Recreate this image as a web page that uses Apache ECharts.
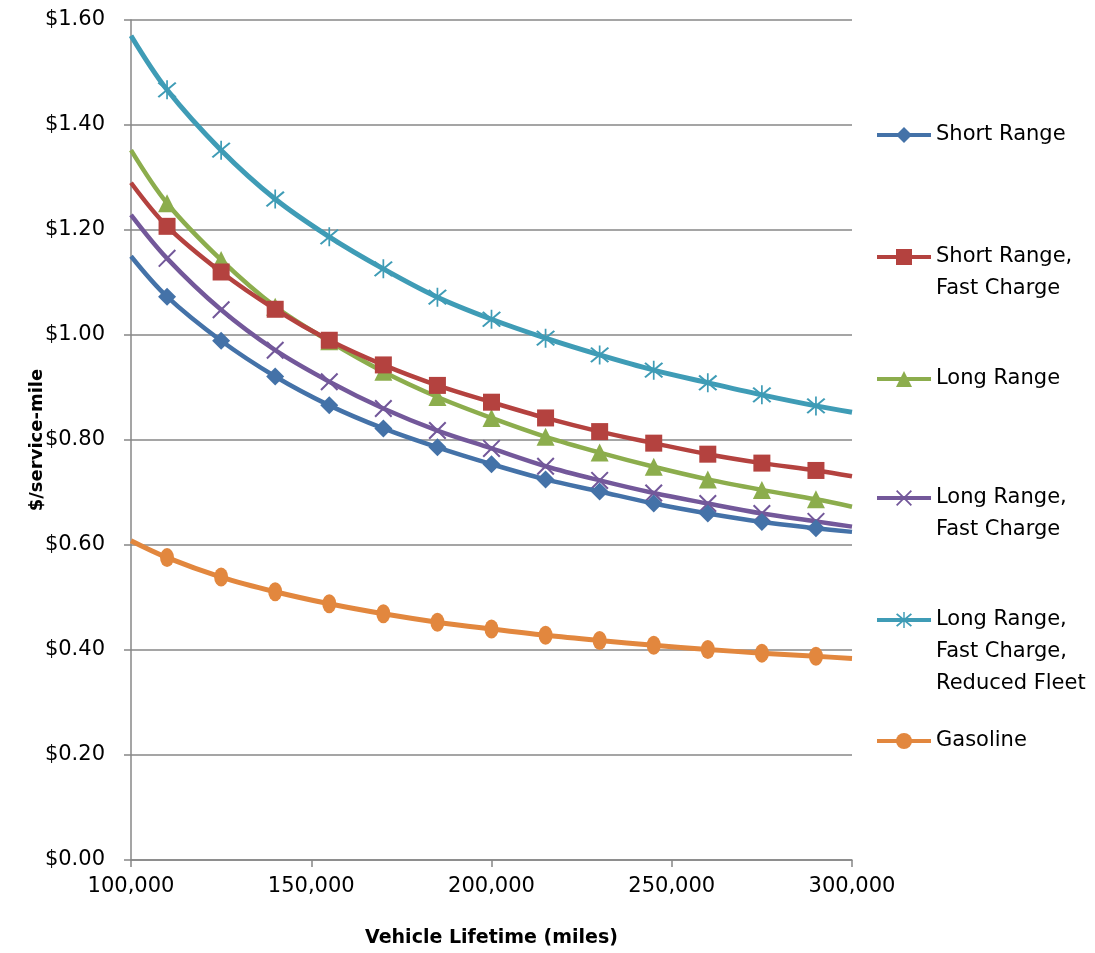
<!DOCTYPE html>
<html>
<head>
<meta charset="utf-8">
<script src="https://cdn.jsdelivr.net/npm/echarts@6/dist/echarts.min.js"></script>
<style>
html,body{margin:0;padding:0;background:#fff;}
#chart{width:1095px;height:953px;}
</style>
</head>
<body>
<div id="chart"></div>
<script>
// ---- data ----
const lifetimes = [100000,110000,125000,140000,155000,170000,185000,200000,215000,230000,245000,260000,275000,290000,300000];
const shortRange     = [1.150,1.073,0.989,0.921,0.866,0.822,0.786,0.754,0.725,0.702,0.679,0.660,0.644,0.632,0.625];
const shortRangeFast = [1.290,1.207,1.120,1.049,0.990,0.943,0.904,0.872,0.842,0.816,0.794,0.773,0.756,0.742,0.731];
const longRange      = [1.352,1.251,1.143,1.054,0.988,0.930,0.882,0.842,0.806,0.776,0.749,0.725,0.705,0.687,0.673];
const longRangeFast  = [1.229,1.146,1.048,0.971,0.911,0.860,0.818,0.784,0.750,0.723,0.699,0.679,0.660,0.645,0.635];
const reducedFleet   = [1.570,1.467,1.352,1.259,1.187,1.126,1.072,1.030,0.994,0.962,0.933,0.909,0.886,0.865,0.853];
const gasoline       = [0.608,0.576,0.539,0.511,0.488,0.469,0.453,0.440,0.428,0.418,0.409,0.401,0.394,0.388,0.384];
const seriesNames = ['Short Range','Short Range, Fast Charge','Long Range','Long Range, Fast Charge','Long Range, Fast Charge, Reduced Fleet','Gasoline'];
const yTicks = [0,0.2,0.4,0.6,0.8,1.0,1.2,1.4,1.6];
const xTicks = [100000,150000,200000,250000,300000];

// ---- styles ----
const FONT = 'DejaVu Sans';
const xPath = 'path://M0,0.8L0.8,0L10,9.2L9.2,10Z M10,0.8L9.2,0L0,9.2L0.8,10Z';
const starPath = 'path://M0,0.8L0.8,0L10,9.2L9.2,10Z M10,0.8L9.2,0L0,9.2L0.8,10Z M4.55,-1L5.45,-1L5.45,11L4.55,11Z';
const styles = [
  {color:'#4472A8', symbol:'diamond', size:18, width:4.5},
  {color:'#B4423F', symbol:'rect', size:17, width:4.5},
  {color:'#8CAD4D', symbol:'triangle', size:18, width:4.5},
  {color:'#73589A', symbol:xPath, size:18, width:4.5},
  {color:'#3F9CB6', symbol:starPath, size:19, width:5},
  {color:'#E2873E', symbol:'circle', size:[14,19], width:5}
];
const values = [shortRange, shortRangeFast, longRange, longRangeFast, reducedFleet, gasoline];
const legendCenters = [135, 257, 379, 498, 620, 741];
const LH = 32;

function buildData(vals){
  return lifetimes.map((x,i)=>{
    const item = {value:[x, vals[i]]};
    if(i===0 || i===lifetimes.length-1) item.symbol = 'none';
    return item;
  });
}

const series = seriesNames.map((name,k)=>({
  name: name,
  type: 'line',
  smooth: 0.35,
  data: buildData(values[k]),
  symbol: styles[k].symbol,
  symbolSize: styles[k].size,
  showAllSymbol: true,
  lineStyle: {color: styles[k].color, width: styles[k].width},
  itemStyle: {color: styles[k].color, borderWidth: 0},
  z: 10 - k,
  animation: false
}));

const legends = seriesNames.map((name,k)=>{
  const lines = name.split(', ').length;
  const totalLines = 2*lines - 1;
  const boxH = LH*totalLines;
  return {
    data: [name],
    left: 875,
    top: legendCenters[k] - boxH/2,
    padding: 0,
    itemWidth: 54,
    itemHeight: 20,
    orient: 'vertical',
    lineStyle: {width: 4},
    formatter: n => {
      const parts = n.split(', ');
      const out = parts.map((p,i)=> i<parts.length-1 ? p + ',' : p);
      for(let i=0;i<parts.length-1;i++) out.unshift(' ');
      return out.join('\n');
    },
    textStyle: {fontFamily: FONT, fontSize: 21, color: '#000', lineHeight: LH}
  };
});

const chart = echarts.init(document.getElementById('chart'), null, {renderer:'canvas'});
chart.setOption({
  animation: false,
  backgroundColor: '#fff',
  grid: {left: 131, right: 243, top: 20, bottom: 93, containLabel: false},
  legend: legends,
  xAxis: {
    type: 'value', min: xTicks[0], max: xTicks[xTicks.length-1], interval: xTicks[1]-xTicks[0],
    name: 'Vehicle Lifetime (miles)', nameLocation: 'middle', nameGap: 69,
    nameTextStyle: {fontFamily: FONT, fontSize: 19, fontWeight: 'bold', color: '#000'},
    axisLine: {show: true, lineStyle: {color: '#878787', width: 1.5}},
    axisTick: {show: true, length: 7, lineStyle: {color: '#878787', width: 1.5}},
    splitLine: {show: false},
    axisLabel: {fontFamily: FONT, fontSize: 21, color: '#000', margin: 16,
                formatter: v => v.toLocaleString('en-US')}
  },
  yAxis: {
    type: 'value', min: yTicks[0], max: yTicks[yTicks.length-1], interval: 0.2,
    name: '$/service-mile', nameLocation: 'middle', nameGap: 85, nameMoveOverlap: false,
    nameTextStyle: {fontFamily: FONT, fontSize: 18, fontWeight: 'bold', color: '#000'},
    axisLine: {show: true, lineStyle: {color: '#878787', width: 1.5}},
    axisTick: {show: true, length: 7, lineStyle: {color: '#878787', width: 1.5}},
    splitLine: {show: true, lineStyle: {color: '#878787', width: 1.5}},
    axisLabel: {fontFamily: FONT, fontSize: 21, color: '#000', margin: 26,
                formatter: v => '$' + v.toFixed(2)}
  },
  series: series
});
</script>
</body>
</html>
